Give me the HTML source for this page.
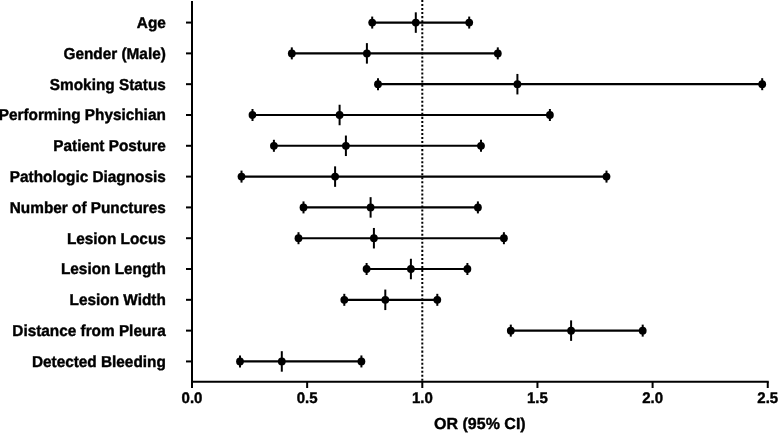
<!DOCTYPE html><html><head><meta charset="utf-8"><style>html,body{margin:0;padding:0;background:#fff;}svg{display:block;will-change:transform;}text{font-family:"Liberation Sans",sans-serif;font-weight:bold;fill:#000;stroke:#000;stroke-width:0.40px;text-rendering:geometricPrecision;}</style></head><body>
<svg width="778" height="433" viewBox="0 0 778 433">
<rect width="778" height="433" fill="#fff"/>
<line x1="422.30" y1="0" x2="422.30" y2="381.75" stroke="#000" stroke-width="2" stroke-dasharray="2.015 2.015"/>
<line x1="192.0" y1="1" x2="192.0" y2="388" stroke="#000" stroke-width="2"/>
<line x1="191.0" y1="381.75" x2="768.75" y2="381.75" stroke="#000" stroke-width="2.15"/>
<line x1="192.00" y1="381.75" x2="192.00" y2="388" stroke="#000" stroke-width="2"/>
<text transform="translate(192.00,403.2) scale(1,1.02)" font-size="15.0" text-anchor="middle">0.0</text>
<line x1="307.15" y1="381.75" x2="307.15" y2="388" stroke="#000" stroke-width="2"/>
<text transform="translate(307.15,403.2) scale(1,1.02)" font-size="15.0" text-anchor="middle">0.5</text>
<line x1="422.30" y1="381.75" x2="422.30" y2="388" stroke="#000" stroke-width="2"/>
<text transform="translate(422.30,403.2) scale(1,1.02)" font-size="15.0" text-anchor="middle">1.0</text>
<line x1="537.45" y1="381.75" x2="537.45" y2="388" stroke="#000" stroke-width="2"/>
<text transform="translate(537.45,403.2) scale(1,1.02)" font-size="15.0" text-anchor="middle">1.5</text>
<line x1="652.60" y1="381.75" x2="652.60" y2="388" stroke="#000" stroke-width="2"/>
<text transform="translate(652.60,403.2) scale(1,1.02)" font-size="15.0" text-anchor="middle">2.0</text>
<line x1="767.75" y1="381.75" x2="767.75" y2="388" stroke="#000" stroke-width="2"/>
<text transform="translate(767.75,403.2) scale(1,1.02)" font-size="15.0" text-anchor="middle">2.5</text>
<text x="479.88" y="429.3" font-size="16" text-anchor="middle">OR (95% CI)</text>
<line x1="186" y1="22.57" x2="192.0" y2="22.57" stroke="#000" stroke-width="2"/>
<text transform="translate(165.8,22.49) scale(1,1.03) translate(0,5.28)" font-size="15.35" text-anchor="end">Age</text>
<line x1="372.2" y1="22.57" x2="469.2" y2="22.57" stroke="#000" stroke-width="2.15"/>
<circle cx="372.2" cy="22.57" r="3.9"/>
<line x1="372.2" y1="16.57" x2="372.2" y2="28.57" stroke="#000" stroke-width="2"/>
<circle cx="415.8" cy="22.57" r="3.9"/>
<line x1="415.8" y1="12.32" x2="415.8" y2="32.82" stroke="#000" stroke-width="2"/>
<circle cx="469.2" cy="22.57" r="3.9"/>
<line x1="469.2" y1="16.57" x2="469.2" y2="28.57" stroke="#000" stroke-width="2"/>
<line x1="186" y1="53.38" x2="192.0" y2="53.38" stroke="#000" stroke-width="2"/>
<text transform="translate(165.8,53.30) scale(1,1.03) translate(0,5.28)" font-size="15.35" text-anchor="end">Gender (Male)</text>
<line x1="291.8" y1="53.38" x2="497.8" y2="53.38" stroke="#000" stroke-width="2.15"/>
<circle cx="291.8" cy="53.38" r="3.9"/>
<line x1="291.8" y1="47.38" x2="291.8" y2="59.38" stroke="#000" stroke-width="2"/>
<circle cx="366.9" cy="53.38" r="3.9"/>
<line x1="366.9" y1="43.13" x2="366.9" y2="63.63" stroke="#000" stroke-width="2"/>
<circle cx="497.8" cy="53.38" r="3.9"/>
<line x1="497.8" y1="47.38" x2="497.8" y2="59.38" stroke="#000" stroke-width="2"/>
<line x1="186" y1="84.18" x2="192.0" y2="84.18" stroke="#000" stroke-width="2"/>
<text transform="translate(165.8,84.10) scale(1,1.03) translate(0,5.28)" font-size="15.35" text-anchor="end">Smoking Status</text>
<line x1="378.0" y1="84.18" x2="762.2" y2="84.18" stroke="#000" stroke-width="2.15"/>
<circle cx="378.0" cy="84.18" r="3.9"/>
<line x1="378.0" y1="78.18" x2="378.0" y2="90.18" stroke="#000" stroke-width="2"/>
<circle cx="517.4" cy="84.18" r="3.9"/>
<line x1="517.4" y1="73.93" x2="517.4" y2="94.43" stroke="#000" stroke-width="2"/>
<circle cx="762.2" cy="84.18" r="3.9"/>
<line x1="762.2" y1="78.18" x2="762.2" y2="90.18" stroke="#000" stroke-width="2"/>
<line x1="186" y1="114.99" x2="192.0" y2="114.99" stroke="#000" stroke-width="2"/>
<text transform="translate(165.8,114.91) scale(1,1.03) translate(0,5.28)" font-size="15.35" text-anchor="end">Performing Physichian</text>
<line x1="252.5" y1="114.99" x2="549.9" y2="114.99" stroke="#000" stroke-width="2.15"/>
<circle cx="252.5" cy="114.99" r="3.9"/>
<line x1="252.5" y1="108.99" x2="252.5" y2="120.99" stroke="#000" stroke-width="2"/>
<circle cx="339.6" cy="114.99" r="3.9"/>
<line x1="339.6" y1="104.74" x2="339.6" y2="125.24" stroke="#000" stroke-width="2"/>
<circle cx="549.9" cy="114.99" r="3.9"/>
<line x1="549.9" y1="108.99" x2="549.9" y2="120.99" stroke="#000" stroke-width="2"/>
<line x1="186" y1="145.79" x2="192.0" y2="145.79" stroke="#000" stroke-width="2"/>
<text transform="translate(165.8,145.71) scale(1,1.03) translate(0,5.28)" font-size="15.35" text-anchor="end">Patient Posture</text>
<line x1="273.9" y1="145.79" x2="481.0" y2="145.79" stroke="#000" stroke-width="2.15"/>
<circle cx="273.9" cy="145.79" r="3.9"/>
<line x1="273.9" y1="139.79" x2="273.9" y2="151.79" stroke="#000" stroke-width="2"/>
<circle cx="345.9" cy="145.79" r="3.9"/>
<line x1="345.9" y1="135.54" x2="345.9" y2="156.04" stroke="#000" stroke-width="2"/>
<circle cx="481.0" cy="145.79" r="3.9"/>
<line x1="481.0" y1="139.79" x2="481.0" y2="151.79" stroke="#000" stroke-width="2"/>
<line x1="186" y1="176.60" x2="192.0" y2="176.60" stroke="#000" stroke-width="2"/>
<text transform="translate(165.8,176.52) scale(1,1.03) translate(0,5.28)" font-size="15.35" text-anchor="end">Pathologic Diagnosis</text>
<line x1="241.5" y1="176.60" x2="606.5" y2="176.60" stroke="#000" stroke-width="2.15"/>
<circle cx="241.5" cy="176.60" r="3.9"/>
<line x1="241.5" y1="170.60" x2="241.5" y2="182.60" stroke="#000" stroke-width="2"/>
<circle cx="335.1" cy="176.60" r="3.9"/>
<line x1="335.1" y1="166.35" x2="335.1" y2="186.85" stroke="#000" stroke-width="2"/>
<circle cx="606.5" cy="176.60" r="3.9"/>
<line x1="606.5" y1="170.60" x2="606.5" y2="182.60" stroke="#000" stroke-width="2"/>
<line x1="186" y1="207.41" x2="192.0" y2="207.41" stroke="#000" stroke-width="2"/>
<text transform="translate(165.8,207.33) scale(1,1.03) translate(0,5.28)" font-size="15.35" text-anchor="end">Number of Punctures</text>
<line x1="303.5" y1="207.41" x2="477.9" y2="207.41" stroke="#000" stroke-width="2.15"/>
<circle cx="303.5" cy="207.41" r="3.9"/>
<line x1="303.5" y1="201.41" x2="303.5" y2="213.41" stroke="#000" stroke-width="2"/>
<circle cx="370.6" cy="207.41" r="3.9"/>
<line x1="370.6" y1="197.16" x2="370.6" y2="217.66" stroke="#000" stroke-width="2"/>
<circle cx="477.9" cy="207.41" r="3.9"/>
<line x1="477.9" y1="201.41" x2="477.9" y2="213.41" stroke="#000" stroke-width="2"/>
<line x1="186" y1="238.21" x2="192.0" y2="238.21" stroke="#000" stroke-width="2"/>
<text transform="translate(165.8,238.13) scale(1,1.03) translate(0,5.28)" font-size="15.35" text-anchor="end">Lesion Locus</text>
<line x1="298.5" y1="238.21" x2="503.9" y2="238.21" stroke="#000" stroke-width="2.15"/>
<circle cx="298.5" cy="238.21" r="3.9"/>
<line x1="298.5" y1="232.21" x2="298.5" y2="244.21" stroke="#000" stroke-width="2"/>
<circle cx="373.9" cy="238.21" r="3.9"/>
<line x1="373.9" y1="227.96" x2="373.9" y2="248.46" stroke="#000" stroke-width="2"/>
<circle cx="503.9" cy="238.21" r="3.9"/>
<line x1="503.9" y1="232.21" x2="503.9" y2="244.21" stroke="#000" stroke-width="2"/>
<line x1="186" y1="269.02" x2="192.0" y2="269.02" stroke="#000" stroke-width="2"/>
<text transform="translate(165.8,268.94) scale(1,1.03) translate(0,5.28)" font-size="15.35" text-anchor="end">Lesion Length</text>
<line x1="366.6" y1="269.02" x2="467.4" y2="269.02" stroke="#000" stroke-width="2.15"/>
<circle cx="366.6" cy="269.02" r="3.9"/>
<line x1="366.6" y1="263.02" x2="366.6" y2="275.02" stroke="#000" stroke-width="2"/>
<circle cx="410.9" cy="269.02" r="3.9"/>
<line x1="410.9" y1="258.77" x2="410.9" y2="279.27" stroke="#000" stroke-width="2"/>
<circle cx="467.4" cy="269.02" r="3.9"/>
<line x1="467.4" y1="263.02" x2="467.4" y2="275.02" stroke="#000" stroke-width="2"/>
<line x1="186" y1="299.82" x2="192.0" y2="299.82" stroke="#000" stroke-width="2"/>
<text transform="translate(165.8,299.74) scale(1,1.03) translate(0,5.28)" font-size="15.35" text-anchor="end">Lesion Width</text>
<line x1="344.3" y1="299.82" x2="437.3" y2="299.82" stroke="#000" stroke-width="2.15"/>
<circle cx="344.3" cy="299.82" r="3.9"/>
<line x1="344.3" y1="293.82" x2="344.3" y2="305.82" stroke="#000" stroke-width="2"/>
<circle cx="385.3" cy="299.82" r="3.9"/>
<line x1="385.3" y1="289.57" x2="385.3" y2="310.07" stroke="#000" stroke-width="2"/>
<circle cx="437.3" cy="299.82" r="3.9"/>
<line x1="437.3" y1="293.82" x2="437.3" y2="305.82" stroke="#000" stroke-width="2"/>
<line x1="186" y1="330.63" x2="192.0" y2="330.63" stroke="#000" stroke-width="2"/>
<text transform="translate(165.8,330.55) scale(1,1.03) translate(0,5.28)" font-size="15.35" text-anchor="end">Distance from Pleura</text>
<line x1="510.8" y1="330.63" x2="642.7" y2="330.63" stroke="#000" stroke-width="2.15"/>
<circle cx="510.8" cy="330.63" r="3.9"/>
<line x1="510.8" y1="324.63" x2="510.8" y2="336.63" stroke="#000" stroke-width="2"/>
<circle cx="571.1" cy="330.63" r="3.9"/>
<line x1="571.1" y1="320.38" x2="571.1" y2="340.88" stroke="#000" stroke-width="2"/>
<circle cx="642.7" cy="330.63" r="3.9"/>
<line x1="642.7" y1="324.63" x2="642.7" y2="336.63" stroke="#000" stroke-width="2"/>
<line x1="186" y1="361.44" x2="192.0" y2="361.44" stroke="#000" stroke-width="2"/>
<text transform="translate(165.8,361.36) scale(1,1.03) translate(0,5.28)" font-size="15.35" text-anchor="end">Detected Bleeding</text>
<line x1="240.0" y1="361.44" x2="361.4" y2="361.44" stroke="#000" stroke-width="2.15"/>
<circle cx="240.0" cy="361.44" r="3.9"/>
<line x1="240.0" y1="355.44" x2="240.0" y2="367.44" stroke="#000" stroke-width="2"/>
<circle cx="281.8" cy="361.44" r="3.9"/>
<line x1="281.8" y1="351.19" x2="281.8" y2="371.69" stroke="#000" stroke-width="2"/>
<circle cx="361.4" cy="361.44" r="3.9"/>
<line x1="361.4" y1="355.44" x2="361.4" y2="367.44" stroke="#000" stroke-width="2"/>
</svg></body></html>
